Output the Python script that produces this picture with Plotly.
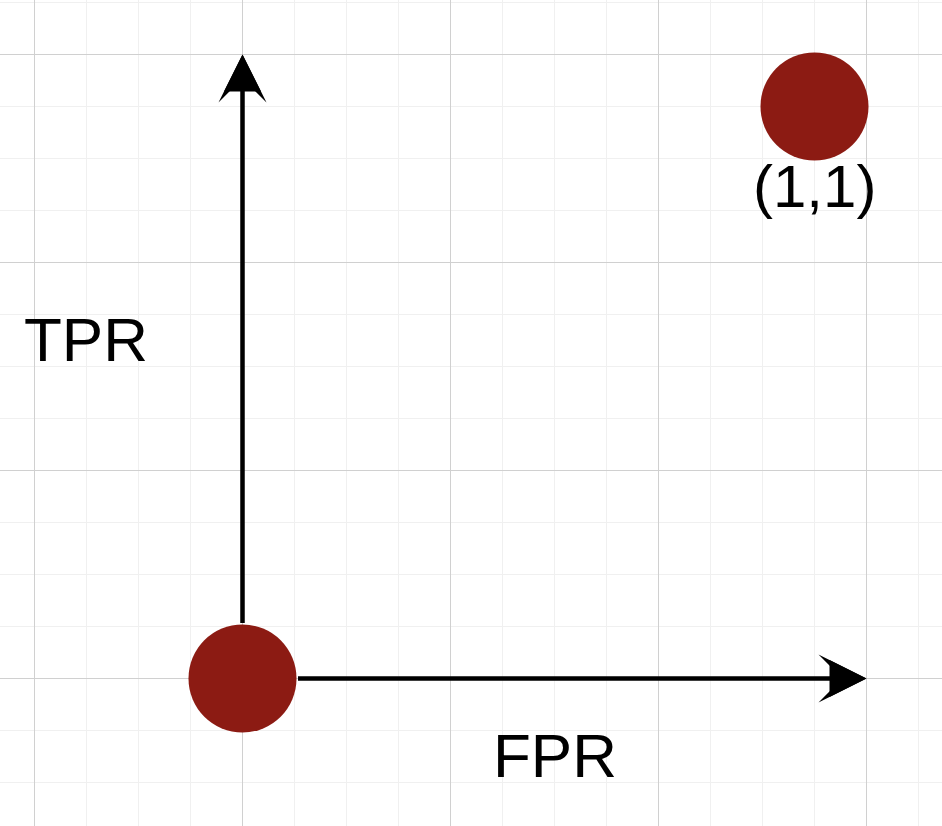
import plotly.graph_objects as go

# ---- data ----
fpr = [0, 1]
tpr = [0, 1]
point_labels = ["", "(1,1)"]
x_label = "FPR"
y_label = "TPR"

CELLS_PER_UNIT = 11
cell = 1 / CELLS_PER_UNIT
axis_len = 12 * cell

W, H = 942, 826
px_per_unit = 572.0
ox, oy = 242.5, 678.5  # pixel position of origin

xr = [-ox / px_per_unit, (W - ox) / px_per_unit]
yr = [-(H - oy) / px_per_unit, oy / px_per_unit]

red = "#8C1B13"
font_family = "Liberation Sans, Arial, Helvetica, sans-serif"
DOT = 108

fig = go.Figure()

fig.add_trace(go.Scatter(
    x=fpr, y=tpr, mode="markers",
    marker=dict(size=DOT, color=red, line=dict(width=0)),
    hoverinfo="skip", showlegend=False, cliponaxis=False,
))

# point labels
for xv, yv, lab in zip(fpr, tpr, point_labels):
    if lab:
        fig.add_annotation(x=xv, y=yv, xref="x", yref="y", text=lab,
                           showarrow=False, yanchor="middle", yshift=-80,
                           font=dict(size=60, color="black", family=font_family))

# axis arrows (start from origin, leave dot radius free)
for hx, hy in [(axis_len, 0), (0, axis_len)]:
    # barbed head + flat head to fill notch partially
    for head, size in [(3, 2), (2, 1.85)]:
        fig.add_annotation(x=hx, y=hy, ax=fpr[0], ay=tpr[0], xref="x", yref="y",
                           axref="x", ayref="y", text="", showarrow=True,
                           arrowhead=head, arrowsize=size, arrowwidth=4,
                           arrowcolor="black", startstandoff=DOT / 2, standoff=0)

# axis labels
fig.add_annotation(x=0.546, y=-0.135, xref="x", yref="y", text=x_label,
                   showarrow=False, font=dict(size=62, color="black", family=font_family))
fig.add_annotation(x=-0.274, y=0.592, xref="x", yref="y", text=y_label,
                   showarrow=False, font=dict(size=62, color="black", family=font_family))

axis_common = dict(
    showticklabels=False, zeroline=False, showline=False, ticks="",
    showgrid=True, gridcolor="#d0d0d0", gridwidth=1,
    tick0=0, dtick=4 * cell,
    minor=dict(showgrid=True, gridcolor="#f0f0f0", gridwidth=1, dtick=cell, tick0=0),
)

fig.update_xaxes(range=xr, **axis_common)
fig.update_yaxes(range=yr, **axis_common)

fig.update_layout(
    width=W, height=H,
    margin=dict(l=0, r=0, t=0, b=0),
    paper_bgcolor="white", plot_bgcolor="white",
    showlegend=False,
)

fig.write_html("out.html", config={"displayModeBar": False, "staticPlot": True},
               post_script="document.body.style.margin='0';document.body.style.overflow='hidden';")
